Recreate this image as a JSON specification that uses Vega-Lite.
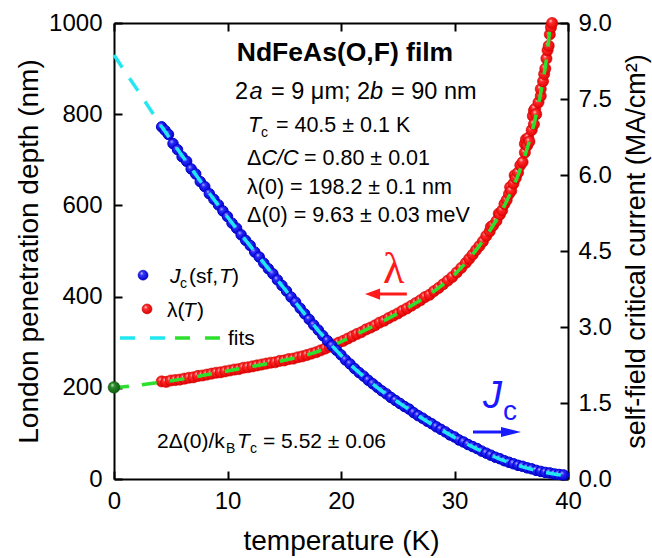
{
  "$schema": "https://vega.github.io/schema/vega-lite/v6.json",
  "width": 454,
  "height": 456,
  "autosize": {"type": "none"},
  "padding": {"left": 114, "top": 23, "right": 84, "bottom": 79},
  "background": "white",
  "config": {
    "view": {"stroke": null},
    "font": "Liberation Sans",
    "axis": {
      "domainColor": "black", "domainWidth": 2, "tickColor": "black", "tickWidth": 2, "tickSize": -8,
      "labelFontSize": 24, "labelColor": "black", "labelFont": "Liberation Sans", "labelPadding": 18,
      "titleFont": "Liberation Sans", "titleFontSize": 28, "titleFontWeight": "normal", "titleColor": "black",
      "grid": false, "labelFlush": false, "labelOverlap": false
    }
  },
  "datasets": {
    "jc": [
      {"T":4.2,"Jc":6.95},{"T":4.5,"Jc":6.88},{"T":4.8,"Jc":6.80},{"T":5.2,"Jc":6.62},{"T":5.6,"Jc":6.50},{"T":6.0,"Jc":6.36},{"T":6.4,"Jc":6.27},{"T":6.8,"Jc":6.12},{"T":7.2,"Jc":6.02},{"T":7.6,"Jc":5.87},
      {"T":8.0,"Jc":5.77},{"T":8.4,"Jc":5.63},{"T":8.8,"Jc":5.52},{"T":9.2,"Jc":5.41},{"T":9.6,"Jc":5.29},{"T":10.0,"Jc":5.18},{"T":10.4,"Jc":5.05},{"T":10.8,"Jc":4.95},{"T":11.2,"Jc":4.82},{"T":11.6,"Jc":4.71},
      {"T":12.0,"Jc":4.61},{"T":12.4,"Jc":4.48},{"T":12.8,"Jc":4.38},{"T":13.2,"Jc":4.26},{"T":13.6,"Jc":4.15},{"T":14.0,"Jc":4.05},{"T":14.4,"Jc":3.93},{"T":14.8,"Jc":3.82},{"T":15.2,"Jc":3.71},{"T":15.6,"Jc":3.59},
      {"T":16.0,"Jc":3.49},{"T":16.4,"Jc":3.37},{"T":16.8,"Jc":3.26},{"T":17.2,"Jc":3.15},{"T":17.6,"Jc":3.04},{"T":18.0,"Jc":2.94},{"T":18.4,"Jc":2.83},{"T":18.8,"Jc":2.73},{"T":19.2,"Jc":2.63},{"T":19.6,"Jc":2.54},
      {"T":20.0,"Jc":2.45},{"T":20.4,"Jc":2.35},{"T":20.8,"Jc":2.27},{"T":21.2,"Jc":2.18},{"T":21.6,"Jc":2.10},{"T":22.0,"Jc":2.03},{"T":22.4,"Jc":1.95},{"T":22.8,"Jc":1.88},{"T":23.2,"Jc":1.81},{"T":23.6,"Jc":1.74},
      {"T":24.0,"Jc":1.68},{"T":24.4,"Jc":1.61},{"T":24.8,"Jc":1.55},{"T":25.2,"Jc":1.49},{"T":25.6,"Jc":1.43},{"T":26.0,"Jc":1.38},{"T":26.4,"Jc":1.31},{"T":26.8,"Jc":1.25},{"T":27.2,"Jc":1.20},{"T":27.6,"Jc":1.14},
      {"T":28.0,"Jc":1.09},{"T":28.4,"Jc":1.03},{"T":28.8,"Jc":0.98},{"T":29.2,"Jc":0.93},{"T":29.6,"Jc":0.87},{"T":30.0,"Jc":0.83},{"T":30.4,"Jc":0.77},{"T":30.8,"Jc":0.73},{"T":31.2,"Jc":0.68},{"T":31.6,"Jc":0.64},
      {"T":32.0,"Jc":0.60},{"T":32.4,"Jc":0.55},{"T":32.8,"Jc":0.51},{"T":33.2,"Jc":0.47},{"T":33.6,"Jc":0.43},{"T":34.0,"Jc":0.40},{"T":34.4,"Jc":0.36},{"T":34.8,"Jc":0.33},{"T":35.2,"Jc":0.30},{"T":35.6,"Jc":0.27},
      {"T":36.0,"Jc":0.25},{"T":36.4,"Jc":0.22},{"T":36.8,"Jc":0.20},{"T":37.2,"Jc":0.17},{"T":37.6,"Jc":0.15},{"T":38.0,"Jc":0.13},{"T":38.4,"Jc":0.12},{"T":38.8,"Jc":0.10},{"T":39.2,"Jc":0.09},{"T":39.6,"Jc":0.08}
    ],
    "jcfit": [
      {"T":0,"Jc":8.37},{"T":1,"Jc":8.03},{"T":2,"Jc":7.70},{"T":3,"Jc":7.36},{"T":4,"Jc":7.02},{"T":5,"Jc":6.70},{"T":6,"Jc":6.38},{"T":7,"Jc":6.07},{"T":8,"Jc":5.76},{"T":9,"Jc":5.46},
      {"T":10,"Jc":5.17},{"T":11,"Jc":4.88},{"T":12,"Jc":4.60},{"T":13,"Jc":4.32},{"T":14,"Jc":4.04},{"T":15,"Jc":3.76},{"T":16,"Jc":3.48},{"T":17,"Jc":3.20},{"T":18,"Jc":2.93},{"T":19,"Jc":2.68},
      {"T":20,"Jc":2.44},{"T":21,"Jc":2.22},{"T":22,"Jc":2.02},{"T":23,"Jc":1.84},{"T":24,"Jc":1.67},{"T":25,"Jc":1.52},{"T":26,"Jc":1.37},{"T":27,"Jc":1.22},{"T":28,"Jc":1.08},{"T":29,"Jc":0.95},
      {"T":30,"Jc":0.82},{"T":31,"Jc":0.70},{"T":32,"Jc":0.59},{"T":33,"Jc":0.49},{"T":34,"Jc":0.39},{"T":35,"Jc":0.31},{"T":36,"Jc":0.24},{"T":37,"Jc":0.18},{"T":38,"Jc":0.13},{"T":39,"Jc":0.09},{"T":39.6,"Jc":0.07}
    ],
    "lam": [
      {"T":4.2,"lambda":214},{"T":4.6,"lambda":213},{"T":5.0,"lambda":216},{"T":5.4,"lambda":217},{"T":5.8,"lambda":218},{"T":6.2,"lambda":220},{"T":6.6,"lambda":222},{"T":7.0,"lambda":223},{"T":7.4,"lambda":226},{"T":7.8,"lambda":227},
      {"T":8.2,"lambda":229},{"T":8.6,"lambda":231},{"T":9.0,"lambda":233},{"T":9.4,"lambda":234},{"T":9.8,"lambda":236},{"T":10.2,"lambda":238},{"T":10.6,"lambda":240},{"T":11.0,"lambda":241},{"T":11.4,"lambda":244},{"T":11.8,"lambda":245},
      {"T":12.2,"lambda":247},{"T":12.6,"lambda":249},{"T":13.0,"lambda":251},{"T":13.4,"lambda":253},{"T":13.8,"lambda":255},{"T":14.2,"lambda":256},{"T":14.6,"lambda":259},{"T":15.0,"lambda":260},{"T":15.4,"lambda":263},{"T":15.8,"lambda":264},
      {"T":16.2,"lambda":267},{"T":16.6,"lambda":269},{"T":17.0,"lambda":272},{"T":17.4,"lambda":275},{"T":17.8,"lambda":278},{"T":18.2,"lambda":282},{"T":18.6,"lambda":286},{"T":19.0,"lambda":290},{"T":19.4,"lambda":295},{"T":19.8,"lambda":299},
      {"T":20.2,"lambda":303},{"T":20.6,"lambda":308},{"T":21.0,"lambda":313},{"T":21.4,"lambda":318},{"T":21.8,"lambda":322},{"T":22.2,"lambda":328},{"T":22.6,"lambda":332},{"T":23.0,"lambda":337},{"T":23.4,"lambda":343},{"T":23.8,"lambda":347},
      {"T":24.2,"lambda":353},{"T":24.6,"lambda":358},{"T":25.0,"lambda":363},{"T":25.4,"lambda":369},{"T":25.8,"lambda":374},{"T":26.2,"lambda":380},{"T":26.6,"lambda":386},{"T":27.0,"lambda":392},{"T":27.4,"lambda":399},{"T":27.8,"lambda":404},
      {"T":28.2,"lambda":412},{"T":28.6,"lambda":419},{"T":29.0,"lambda":427},{"T":29.4,"lambda":435},{"T":29.8,"lambda":443},{"T":30.2,"lambda":453},{"T":30.6,"lambda":463},{"T":31.0,"lambda":474},{"T":31.3,"lambda":483},{"T":31.6,"lambda":492},
      {"T":31.9,"lambda":502},{"T":32.2,"lambda":511},{"T":32.5,"lambda":521},{"T":32.8,"lambda":533},{"T":33.1,"lambda":543},{"T":33.2,"lambda":553},{"T":33.4,"lambda":556},{"T":33.7,"lambda":566},{"T":33.9,"lambda":582},{"T":34.0,"lambda":580},
      {"T":34.2,"lambda":589},{"T":34.4,"lambda":603},{"T":34.6,"lambda":612},{"T":34.8,"lambda":625},{"T":34.9,"lambda":640},{"T":35.0,"lambda":632},{"T":35.2,"lambda":648},{"T":35.3,"lambda":666},{"T":35.4,"lambda":660},{"T":35.6,"lambda":672},
      {"T":35.8,"lambda":688},{"T":36.0,"lambda":695},{"T":36.2,"lambda":716},{"T":36.2,"lambda":735},{"T":36.3,"lambda":745},{"T":36.4,"lambda":731},{"T":36.5,"lambda":748},{"T":36.6,"lambda":740},{"T":36.8,"lambda":765},{"T":36.9,"lambda":796},
      {"T":37.0,"lambda":778},{"T":37.0,"lambda":808},{"T":37.1,"lambda":812},{"T":37.2,"lambda":800},{"T":37.4,"lambda":826},{"T":37.6,"lambda":840},{"T":37.6,"lambda":855},{"T":37.8,"lambda":872},{"T":37.9,"lambda":888},{"T":38.0,"lambda":900},
      {"T":38.1,"lambda":922},{"T":38.2,"lambda":940},{"T":38.3,"lambda":950},{"T":38.4,"lambda":975},{"T":38.5,"lambda":990},{"T":38.6,"lambda":1000}
    ],
    "lamfit": [
      {"T":0,"lambda":200},{"T":2,"lambda":205},{"T":4,"lambda":212},{"T":6,"lambda":219},{"T":8,"lambda":228},{"T":10,"lambda":237},{"T":12,"lambda":246},{"T":14,"lambda":255},{"T":16,"lambda":266},{"T":17,"lambda":272},
      {"T":18,"lambda":280},{"T":19,"lambda":290},{"T":20,"lambda":301},{"T":21,"lambda":313},{"T":22,"lambda":325},{"T":23,"lambda":337},{"T":24,"lambda":350},{"T":25,"lambda":363},{"T":26,"lambda":377},{"T":27,"lambda":392},
      {"T":28,"lambda":408},{"T":29,"lambda":427},{"T":30,"lambda":448},{"T":31,"lambda":474},{"T":32,"lambda":505},{"T":33,"lambda":540},{"T":34,"lambda":580},{"T":35,"lambda":630},{"T":35.5,"lambda":660},{"T":36,"lambda":693},
      {"T":36.5,"lambda":733},{"T":37,"lambda":778},{"T":37.5,"lambda":833},{"T":38,"lambda":903},{"T":38.2,"lambda":940},{"T":38.45,"lambda":1000}
    ]
  },
  "resolve": {"scale": {"y": "independent", "x": "independent"}, "axis": {"x": "independent", "y": "independent"}},
  "layer": [
    {
      "data": {"values": [{}]},
      "layer": [
        {
          "data": {"name": "lam"},
          "mark": {"type": "point", "filled": true, "size": 125, "stroke": "#d00000", "strokeWidth": 0.6, "opacity": 1,
            "fill": {"gradient": "radial", "x1": 0.35, "y1": 0.3, "r1": 0, "x2": 0.45, "y2": 0.45, "r2": 0.6,
              "stops": [{"offset": 0, "color": "#ffe0e0"}, {"offset": 0.3, "color": "#ff2a2a"}, {"offset": 1, "color": "#e00000"}]}},
          "encoding": {
            "x": {"field": "T", "type": "quantitative", "scale": {"domain": [0, 40], "nice": false, "zero": false},
              "axis": {"orient": "bottom", "values": [0, 10, 20, 30, 40], "format": "d", "title": "temperature (K)", "titlePadding": 14}},
            "y": {"field": "lambda", "type": "quantitative", "scale": {"domain": [0, 1000], "nice": false},
              "axis": {"orient": "left", "values": [0, 200, 400, 600, 800, 1000], "format": "d", "labelPadding": 20, "title": "London penetration depth (nm)", "titlePadding": 5}}
          }
        },
        {
          "data": {"name": "lamfit"},
          "mark": {"type": "line", "color": "#2ee02e", "strokeWidth": 3.5, "strokeDash": [15, 13]},
          "encoding": {"x": {"field": "T", "type": "quantitative"}, "y": {"field": "lambda", "type": "quantitative"}}
        },
        {
          "mark": {"type": "point", "filled": true, "size": 140, "opacity": 1, "stroke": "#0a4a0a", "strokeWidth": 0.5,
            "fill": {"gradient": "radial", "x1": 0.35, "y1": 0.3, "r1": 0, "x2": 0.45, "y2": 0.45, "r2": 0.6,
              "stops": [{"offset": 0, "color": "#d0f0d0"}, {"offset": 0.3, "color": "#2a8a2a"}, {"offset": 1, "color": "#0a5a0a"}]}},
          "encoding": {"x": {"datum": 0}, "y": {"datum": 201}}
        },
        {
          "mark": {"type": "point", "filled": true, "size": 100, "opacity": 1, "stroke": "#0000b0", "strokeWidth": 0.5,
            "fill": {"gradient": "radial", "x1": 0.35, "y1": 0.3, "r1": 0, "x2": 0.45, "y2": 0.45, "r2": 0.6,
              "stops": [{"offset": 0, "color": "#d8d8ff"}, {"offset": 0.3, "color": "#3535ff"}, {"offset": 1, "color": "#0000c0"}]}},
          "encoding": {"x": {"datum": 2.56}, "y": {"datum": 447}}
        },
        {
          "mark": {"type": "point", "filled": true, "size": 100, "opacity": 1, "stroke": "#cc0000", "strokeWidth": 0.5,
            "fill": {"gradient": "radial", "x1": 0.35, "y1": 0.3, "r1": 0, "x2": 0.45, "y2": 0.45, "r2": 0.6,
              "stops": [{"offset": 0, "color": "#ffe0e0"}, {"offset": 0.3, "color": "#ff3030"}, {"offset": 1, "color": "#d00000"}]}},
          "encoding": {"x": {"datum": 2.91}, "y": {"datum": 373}}
        },
        {
          "mark": {"type": "rule", "color": "#22e6f0", "strokeWidth": 3.5, "strokeDash": [15, 15]},
          "encoding": {"x": {"datum": 0.53}, "x2": {"datum": 4.49}, "y": {"datum": 309}}
        },
        {
          "mark": {"type": "rule", "color": "#2ee02e", "strokeWidth": 3.5, "strokeDash": [15, 15]},
          "encoding": {"x": {"datum": 5.37}, "x2": {"datum": 9.5}, "y": {"datum": 309}}
        },
        {"mark": {"type": "text", "text": "J", "fontStyle": "italic", "fontSize": 21, "align": "left", "baseline": "alphabetic", "color": "black"},
          "encoding": {"x": {"datum": 4.93}, "y": {"datum": 430}}},
        {"mark": {"type": "text", "text": "c", "fontSize": 14, "dx": 10, "dy": 5, "align": "left", "baseline": "alphabetic", "color": "black"},
          "encoding": {"x": {"datum": 4.93}, "y": {"datum": 430}}},
        {"mark": {"type": "text", "text": "(sf,", "fontSize": 21, "dx": 19, "align": "left", "baseline": "alphabetic", "color": "black"},
          "encoding": {"x": {"datum": 4.93}, "y": {"datum": 430}}},
        {"mark": {"type": "text", "text": "T", "fontStyle": "italic", "fontSize": 21, "dx": 49, "align": "left", "baseline": "alphabetic", "color": "black"},
          "encoding": {"x": {"datum": 4.93}, "y": {"datum": 430}}},
        {"mark": {"type": "text", "text": ")", "fontSize": 21, "dx": 62, "align": "left", "baseline": "alphabetic", "color": "black"},
          "encoding": {"x": {"datum": 4.93}, "y": {"datum": 430}}},
        {"mark": {"type": "text", "text": "λ(", "fontSize": 21, "align": "left", "baseline": "alphabetic", "color": "black"},
          "encoding": {"x": {"datum": 4.67}, "y": {"datum": 356}}},
        {"mark": {"type": "text", "text": "T", "fontStyle": "italic", "fontSize": 21, "dx": 16, "align": "left", "baseline": "alphabetic", "color": "black"},
          "encoding": {"x": {"datum": 4.67}, "y": {"datum": 356}}},
        {"mark": {"type": "text", "text": ")", "fontSize": 21, "dx": 30, "align": "left", "baseline": "alphabetic", "color": "black"},
          "encoding": {"x": {"datum": 4.67}, "y": {"datum": 356}}},
        {"mark": {"type": "text", "text": "fits", "fontSize": 21, "align": "left", "baseline": "alphabetic", "color": "black"},
          "encoding": {"x": {"datum": 10.04}, "y": {"datum": 293}}},
        {"mark": {"type": "text", "text": "NdFeAs(O,F) film", "fontSize": 26.5, "fontWeight": "bold", "align": "center", "baseline": "alphabetic", "color": "black"},
          "encoding": {"x": {"datum": 20.35}, "y": {"datum": 916}}},
        {"mark": {"type": "text", "text": "2", "fontSize": 23.5, "align": "left", "baseline": "alphabetic", "color": "black"},
          "encoding": {"x": {"datum": 10.66}, "y": {"datum": 834}}},
        {"mark": {"type": "text", "text": "a", "fontSize": 23.5, "fontStyle": "italic", "dx": 14.5, "align": "left", "baseline": "alphabetic", "color": "black"},
          "encoding": {"x": {"datum": 10.66}, "y": {"datum": 834}}},
        {"mark": {"type": "text", "text": "= 9 μm; 2", "fontSize": 23.5, "dx": 36, "align": "left", "baseline": "alphabetic", "color": "black"},
          "encoding": {"x": {"datum": 10.66}, "y": {"datum": 834}}},
        {"mark": {"type": "text", "text": "b", "fontSize": 23.5, "fontStyle": "italic", "dx": 135, "align": "left", "baseline": "alphabetic", "color": "black"},
          "encoding": {"x": {"datum": 10.66}, "y": {"datum": 834}}},
        {"mark": {"type": "text", "text": "= 90 nm", "fontSize": 23.5, "dx": 156, "align": "left", "baseline": "alphabetic", "color": "black"},
          "encoding": {"x": {"datum": 10.66}, "y": {"datum": 834}}},
        {"mark": {"type": "text", "text": "T", "fontSize": 21.5, "fontStyle": "italic", "align": "left", "baseline": "alphabetic", "color": "black"},
          "encoding": {"x": {"datum": 11.8}, "y": {"datum": 762}}},
        {"mark": {"type": "text", "text": "c", "fontSize": 14, "dx": 13, "dy": 5, "align": "left", "baseline": "alphabetic", "color": "black"},
          "encoding": {"x": {"datum": 11.8}, "y": {"datum": 762}}},
        {"mark": {"type": "text", "text": "= 40.5 ± 0.1 K", "fontSize": 21.5, "dx": 28, "align": "left", "baseline": "alphabetic", "color": "black"},
          "encoding": {"x": {"datum": 11.8}, "y": {"datum": 762}}},
        {"mark": {"type": "text", "text": "Δ", "fontSize": 21.5, "align": "left", "baseline": "alphabetic", "color": "black"},
          "encoding": {"x": {"datum": 11.72}, "y": {"datum": 689}}},
        {"mark": {"type": "text", "text": "C/C", "fontSize": 21.5, "fontStyle": "italic", "dx": 14.5, "align": "left", "baseline": "alphabetic", "color": "black"},
          "encoding": {"x": {"datum": 11.72}, "y": {"datum": 689}}},
        {"mark": {"type": "text", "text": "= 0.80 ± 0.01", "fontSize": 21.5, "dx": 57, "align": "left", "baseline": "alphabetic", "color": "black"},
          "encoding": {"x": {"datum": 11.72}, "y": {"datum": 689}}},
        {"mark": {"type": "text", "text": "λ(0) = 198.2 ± 0.1 nm", "fontSize": 21.5, "align": "left", "baseline": "alphabetic", "color": "black"},
          "encoding": {"x": {"datum": 11.72}, "y": {"datum": 626}}},
        {"mark": {"type": "text", "text": "Δ(0) = 9.63 ± 0.03 meV", "fontSize": 21.5, "align": "left", "baseline": "alphabetic", "color": "black"},
          "encoding": {"x": {"datum": 11.72}, "y": {"datum": 564}}},
        {"mark": {"type": "text", "text": "2Δ(0)/k", "fontSize": 21, "align": "left", "baseline": "alphabetic", "color": "black"},
          "encoding": {"x": {"datum": 3.79}, "y": {"datum": 69}}},
        {"mark": {"type": "text", "text": "B", "fontSize": 14, "dx": 69, "dy": 5, "align": "left", "baseline": "alphabetic", "color": "black"},
          "encoding": {"x": {"datum": 3.79}, "y": {"datum": 69}}},
        {"mark": {"type": "text", "text": "T", "fontSize": 21, "fontStyle": "italic", "dx": 80, "align": "left", "baseline": "alphabetic", "color": "black"},
          "encoding": {"x": {"datum": 3.79}, "y": {"datum": 69}}},
        {"mark": {"type": "text", "text": "c", "fontSize": 14, "dx": 93, "dy": 5, "align": "left", "baseline": "alphabetic", "color": "black"},
          "encoding": {"x": {"datum": 3.79}, "y": {"datum": 69}}},
        {"mark": {"type": "text", "text": "= 5.52 ± 0.06", "fontSize": 21, "dx": 106, "align": "left", "baseline": "alphabetic", "color": "black"},
          "encoding": {"x": {"datum": 3.79}, "y": {"datum": 69}}},
        {"mark": {"type": "text", "text": "λ", "font": "Liberation Serif", "fontSize": 44, "align": "center", "baseline": "alphabetic", "color": "#ff1a1a"},
          "encoding": {"x": {"datum": 24.63}, "y": {"datum": 430}}},
        {"mark": {"type": "rule", "color": "#ff1a1a", "strokeWidth": 3},
          "encoding": {"x": {"datum": 23.0}, "x2": {"datum": 25.8}, "y": {"datum": 405.7}}},
        {"mark": {"type": "point", "shape": "M-1,0L1,-0.75L1,0.75Z", "size": 225, "filled": true, "opacity": 1, "color": "#ff1a1a"},
          "encoding": {"x": {"datum": 22.78}, "y": {"datum": 405.7}}},
        {"mark": {"type": "text", "text": "J", "fontSize": 38, "fontStyle": "italic", "align": "left", "baseline": "alphabetic", "color": "#1a1aff"},
          "encoding": {"x": {"datum": 32.5}, "y": {"datum": 155.7}}},
        {"mark": {"type": "text", "text": "c", "fontSize": 28, "align": "left", "baseline": "alphabetic", "color": "#1a1aff"},
          "encoding": {"x": {"datum": 34.27}, "y": {"datum": 129.4}}},
        {"mark": {"type": "rule", "color": "#1a1aff", "strokeWidth": 3},
          "encoding": {"x": {"datum": 31.63}, "x2": {"datum": 34.5}, "y": {"datum": 103.1}}},
        {"mark": {"type": "point", "shape": "M1,0L-1,-0.5L-1,0.5Z", "size": 400, "filled": true, "opacity": 1, "color": "#1a1aff"},
          "encoding": {"x": {"datum": 34.98}, "y": {"datum": 103.1}}}
      ]
    },
    {
      "layer": [
        {
          "data": {"name": "jc"},
          "mark": {"type": "point", "filled": true, "size": 110, "stroke": "#0000d0", "strokeWidth": 1, "opacity": 1,
            "fill": {"gradient": "radial", "x1": 0.35, "y1": 0.3, "r1": 0, "x2": 0.45, "y2": 0.45, "r2": 0.6,
              "stops": [{"offset": 0, "color": "#c8c8ff"}, {"offset": 0.3, "color": "#2a2aff"}, {"offset": 1, "color": "#0000c0"}]}},
          "encoding": {
            "x": {"field": "T", "type": "quantitative", "scale": {"domain": [0, 40], "nice": false, "zero": false},
              "axis": {"orient": "top", "values": [0, 10, 20, 30, 40], "labels": false, "title": null}},
            "y": {"field": "Jc", "type": "quantitative", "scale": {"domain": [0, 9], "nice": false},
              "axis": {"orient": "right", "values": [0, 1.5, 3, 4.5, 6, 7.5, 9], "format": ".1f", "title": "self-field critical current (MA/cm²)", "titleFontSize": 27, "titleAngle": 270, "titleBaseline": "top", "titlePadding": 12}}
          }
        },
        {
          "data": {"name": "jcfit"},
          "mark": {"type": "line", "color": "#22e6f0", "strokeWidth": 3.5, "strokeDash": [15, 13]},
          "encoding": {"x": {"field": "T", "type": "quantitative"}, "y": {"field": "Jc", "type": "quantitative"}}
        }
      ]
    }
  ]
}
